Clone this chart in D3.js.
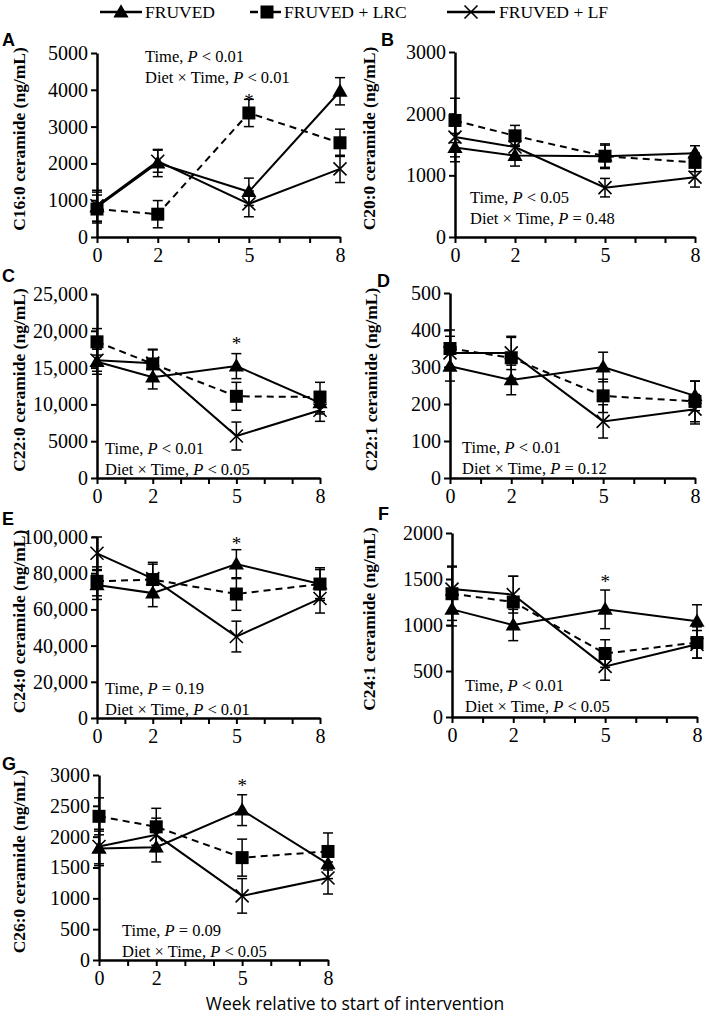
<!DOCTYPE html>
<html><head><meta charset="utf-8">
<script src="https://cdn.jsdelivr.net/npm/d3@7"></script>
<style>body{margin:0;background:#fff}</style>
</head><body><svg id="c" width="709" height="1020"></svg>
<script>
// ---------- DATA ----------
const weeks = [0, 2, 5, 8];
const weekTicks = [0, 1, 2, 3, 4, 5, 6, 7, 8];
const weekLabels = ["0", "", "2", "", "", "5", "", "", "8"];
const seriesNames = ["FRUVED", "FRUVED + LRC", "FRUVED + LF"];

// A: C16:0
const c16Fruved = [820, 2010, 1230, 3960], c16FruvedErr = [400, 370, 370, 370];
const c16Lrc = [760, 620, 3370, 2560], c16LrcErr = [380, 370, 370, 370];
const c16Lf = [850, 2060, 900, 1850], c16LfErr = [420, 300, 350, 370];
const c16Ticks = [0, 1000, 2000, 3000, 4000, 5000];
const c16TickLabels = ["0", "1000", "2000", "3000", "4000", "5000"];
// B: C20:0
const c20Fruved = [1450, 1320, 1310, 1360], c20FruvedErr = [230, 170, 180, 120];
const c20Lrc = [1890, 1640, 1310, 1210], c20LrcErr = [360, 170, 200, 150];
const c20Lf = [1620, 1460, 800, 970], c20LfErr = [320, 150, 150, 160];
const c20Ticks = [0, 1000, 2000, 3000];
const c20TickLabels = ["0", "1000", "2000", "3000"];
// C: C22:0
const c22Fruved = [15800, 13700, 15200, 10200], c22FruvedErr = [1700, 1600, 1700, 1500];
const c22Lrc = [18500, 15500, 11100, 11000], c22LrcErr = [1800, 2000, 1900, 2000];
const c22Lf = [16000, 15600, 5700, 9200], c22LfErr = [1500, 1800, 1900, 1500];
const c22Ticks = [0, 5000, 10000, 15000, 20000, 25000];
const c22TickLabels = ["0", "5000", "10,000", "15,000", "20,000", "25,000"];
// D: C22:1
const c221Fruved = [302, 265, 300, 222], c221FruvedErr = [40, 40, 40, 40];
const c221Lrc = [350, 325, 222, 207], c221LrcErr = [50, 55, 45, 55];
const c221Lf = [338, 338, 153, 186], c221LfErr = [45, 45, 45, 40];
const c221Ticks = [0, 100, 200, 300, 400, 500];
const c221TickLabels = ["0", "100", "200", "300", "400", "500"];
// E: C24:0
const c24Fruved = [73500, 69000, 85000, 74000], c24FruvedErr = [8000, 7500, 8000, 8000];
const c24Lrc = [75500, 76500, 68500, 74000], c24LrcErr = [8000, 8500, 9000, 9000];
const c24Lf = [91000, 77000, 45000, 66000], c24LfErr = [9000, 9000, 8500, 8000];
const c24Ticks = [0, 20000, 40000, 60000, 80000, 100000];
const c24TickLabels = ["0", "20,000", "40,000", "60,000", "80,000", "100,000"];
// F: C24:1
const c241Fruved = [1170, 1000, 1170, 1040], c241FruvedErr = [180, 170, 210, 180];
const c241Lrc = [1340, 1250, 690, 810], c241LrcErr = [290, 280, 150, 170];
const c241Lf = [1390, 1330, 550, 790], c241LfErr = [250, 200, 150, 150];
const c241Ticks = [0, 500, 1000, 1500, 2000];
const c241TickLabels = ["0", "500", "1000", "1500", "2000"];
// G: C26:0
const c26Fruved = [1810, 1830, 2430, 1560], c26FruvedErr = [280, 240, 250, 240];
const c26Lrc = [2330, 2160, 1660, 1760], c26LrcErr = [300, 300, 300, 300];
const c26Lf = [1840, 2030, 1040, 1330], c26LfErr = [280, 270, 280, 260];
const c26Ticks = [0, 500, 1000, 1500, 2000, 2500, 3000];
const c26TickLabels = ["0", "500", "1000", "1500", "2000", "2500", "3000"];

const yTitles = ["C16:0 ceramide (ng/mL)", "C20:0 ceramide (ng/mL)", "C22:0 ceramide (ng/mL)",
  "C22:1 ceramide (ng/mL)", "C24:0 ceramide (ng/mL)", "C24:1 ceramide (ng/mL)", "C26:0 ceramide (ng/mL)"];
const statTime = ["< 0.01", "< 0.05", "< 0.01", "< 0.01", "= 0.19", "< 0.01", "= 0.09"];
const statDxT = ["< 0.01", "= 0.48", "< 0.05", "= 0.12", "< 0.01", "< 0.05", "< 0.05"];
// asterisk: value at week 5 (null = none)
const starValues = [3800, null, 18750, null, 98300, 1510, 2890];

// ---------- LAYOUT ----------
const panels = [
  {L:"A", data:[c16Fruved,c16Lrc,c16Lf], err:[c16FruvedErr,c16LrcErr,c16LfErr], ticks:c16Ticks, tl:c16TickLabels,
   x0:97, x8:340, y0:237, yt:53, lx:2, ly:46, tx:19, ann:[145,62]},
  {L:"B", data:[c20Fruved,c20Lrc,c20Lf], err:[c20FruvedErr,c20LrcErr,c20LfErr], ticks:c20Ticks, tl:c20TickLabels,
   x0:455, x8:695, y0:237, yt:52, lx:381, ly:46, tx:369, ann:[470,203]},
  {L:"C", data:[c22Fruved,c22Lrc,c22Lf], err:[c22FruvedErr,c22LrcErr,c22LfErr], ticks:c22Ticks, tl:c22TickLabels,
   x0:97, x8:320, y0:478, yt:294, lx:2, ly:282, tx:19, ann:[105,454]},
  {L:"D", data:[c221Fruved,c221Lrc,c221Lf], err:[c221FruvedErr,c221LrcErr,c221LfErr], ticks:c221Ticks, tl:c221TickLabels,
   x0:450, x8:695, y0:478, yt:293, lx:377, ly:287, tx:371, ann:[462,453]},
  {L:"E", data:[c24Fruved,c24Lrc,c24Lf], err:[c24FruvedErr,c24LrcErr,c24LfErr], ticks:c24Ticks, tl:c24TickLabels,
   x0:97, x8:320, y0:718, yt:537, lx:2, ly:525, tx:19, ann:[105,694]},
  {L:"F", data:[c241Fruved,c241Lrc,c241Lf], err:[c241FruvedErr,c241LrcErr,c241LfErr], ticks:c241Ticks, tl:c241TickLabels,
   x0:452, x8:697, y0:717, yt:533, lx:378, ly:520, tx:369, ann:[465,691]},
  {L:"G", data:[c26Fruved,c26Lrc,c26Lf], err:[c26FruvedErr,c26LrcErr,c26LfErr], ticks:c26Ticks, tl:c26TickLabels,
   x0:99, x8:328, y0:960, yt:775, lx:2, ly:770, tx:19, ann:[122,936]}
];

const SERIF = "Liberation Serif, Times New Roman, serif";
const SANS = "Liberation Sans, Arial, sans-serif";
const svg = d3.select("#c");
const dashes = [null, "7,5", null];

function drawMarker(g, type, cx, cy) {
  if (type === 0) {
    g.append("path").attr("d", d3.symbol(d3.symbolTriangle, 100)())
      .attr("transform", `translate(${cx},${cy + 1})`).attr("fill", "#000");
  } else if (type === 1) {
    g.append("rect").attr("x", cx - 6.5).attr("y", cy - 6.5).attr("width", 13).attr("height", 13).attr("fill", "#000");
  } else {
    const s = 6.5;
    g.append("path").attr("d", `M${cx - s},${cy - s}L${cx + s},${cy + s}M${cx - s},${cy + s}L${cx + s},${cy - s}`)
      .attr("stroke", "#000").attr("stroke-width", 1.6).attr("fill", "none");
  }
}

panels.forEach((p, pi) => {
  const g = svg.append("g");
  const x = d3.scaleLinear().domain([0, 8]).range([p.x0, p.x8]);
  const ymax = p.ticks[p.ticks.length - 1];
  const y = d3.scaleLinear().domain([0, ymax]).range([p.y0, p.yt]);

  // axes
  const ya = g.append("g").attr("transform", `translate(${p.x0},0)`)
    .call(d3.axisLeft(y).tickValues(p.ticks).tickSize(6).tickSizeOuter(0).tickPadding(3)
      .tickFormat((d, i) => p.tl[i]));
  const xa = g.append("g").attr("transform", `translate(0,${p.y0})`)
    .call(d3.axisBottom(x).tickValues(weekTicks).tickSize(6).tickSizeOuter(0).tickPadding(5)
      .tickFormat((d, i) => weekLabels[i]));
  [ya, xa].forEach(a => {
    a.attr("font-family", SERIF).attr("font-size", 20);
    a.select(".domain").attr("stroke", "#000").attr("stroke-width", 2.5);
    a.selectAll(".tick line").attr("stroke", "#000").attr("stroke-width", 2);
    a.selectAll(".tick text").attr("fill", "#000");
  });

  // error bars
  p.data.forEach((vals, si) => {
    vals.forEach((v, k) => {
      const cx = x(weeks[k]), e = p.err[si][k];
      const yh = y(v + e), yl = y(v - e);
      g.append("line").attr("x1", cx).attr("x2", cx).attr("y1", yh).attr("y2", yl)
        .attr("stroke", "#000").attr("stroke-width", 1.5);
      [yh, yl].forEach(yy => g.append("line").attr("x1", cx - 5).attr("x2", cx + 5)
        .attr("y1", yy).attr("y2", yy).attr("stroke", "#000").attr("stroke-width", 1.5));
    });
  });
  // lines
  const line = d3.line().x((d, k) => x(weeks[k])).y(d => y(d));
  p.data.forEach((vals, si) => {
    g.append("path").attr("d", line(vals)).attr("fill", "none").attr("stroke", "#000")
      .attr("stroke-width", 2).attr("stroke-dasharray", dashes[si]);
  });
  // markers
  p.data.forEach((vals, si) => {
    vals.forEach((v, k) => drawMarker(g, si, x(weeks[k]), y(v)));
  });

  // star
  if (starValues[pi] !== null) {
    g.append("text").attr("x", x(5)).attr("y", y(starValues[pi]) + 10).attr("text-anchor", "middle")
      .attr("font-family", SERIF).attr("font-size", 19).text("*");
  }

  // panel letter
  g.append("text").attr("x", p.lx).attr("y", p.ly).attr("font-family", SANS).attr("font-weight", "bold")
    .attr("font-size", 18).text(p.L);

  // y title
  const cy = (p.y0 + p.yt) / 2 - 6;
  g.append("text").attr("transform", `translate(${p.tx},${cy}) rotate(-90)`)
    .attr("text-anchor", "middle").attr("dominant-baseline", "central")
    .attr("font-family", SERIF).attr("font-weight", "bold").attr("font-size", 17.5).text(yTitles[pi]);

  // annotation
  const a1 = g.append("text").attr("x", p.ann[0]).attr("y", p.ann[1]).attr("font-family", SERIF).attr("font-size", 16.5);
  a1.append("tspan").text("Time, ");
  a1.append("tspan").attr("font-style", "italic").text("P");
  a1.append("tspan").text(" " + statTime[pi]);
  const a2 = g.append("text").attr("x", p.ann[0]).attr("y", p.ann[1] + 21).attr("font-family", SERIF).attr("font-size", 16.5);
  a2.append("tspan").text("Diet \u00d7 Time, ");
  a2.append("tspan").attr("font-style", "italic").text("P");
  a2.append("tspan").text(" " + statDxT[pi]);
});

// legend
const legend = [
  {x1: 100, x2: 142, mx: 121, tx: 145},
  {x1: 250, x2: 281, mx: 267, tx: 284},
  {x1: 447, x2: 495, mx: 471, tx: 499}
];
const lg = svg.append("g");
legend.forEach((l, i) => {
  if (i === 1) {
    lg.append("line").attr("x1", l.x1).attr("x2", l.x1 + 8).attr("y1", 12).attr("y2", 12).attr("stroke", "#000").attr("stroke-width", 2.5);
    lg.append("line").attr("x1", l.x2 - 8).attr("x2", l.x2).attr("y1", 12).attr("y2", 12).attr("stroke", "#000").attr("stroke-width", 2.5);
  } else {
    lg.append("line").attr("x1", l.x1).attr("x2", l.x2).attr("y1", 12).attr("y2", 12).attr("stroke", "#000").attr("stroke-width", 2.5);
  }
  drawMarker(lg, i, l.mx, 12);
  lg.append("text").attr("x", l.tx).attr("y", 18).attr("font-family", SERIF).attr("font-size", 17.5).text(seriesNames[i]);
});

// bottom title
svg.append("text").attr("x", 355).attr("y", 1010).attr("text-anchor", "middle")
  .attr("font-family", "Open Sans, Noto Sans, sans-serif").attr("font-size", 17.5)
  .text("Week relative to start of intervention");
</script></body></html>
